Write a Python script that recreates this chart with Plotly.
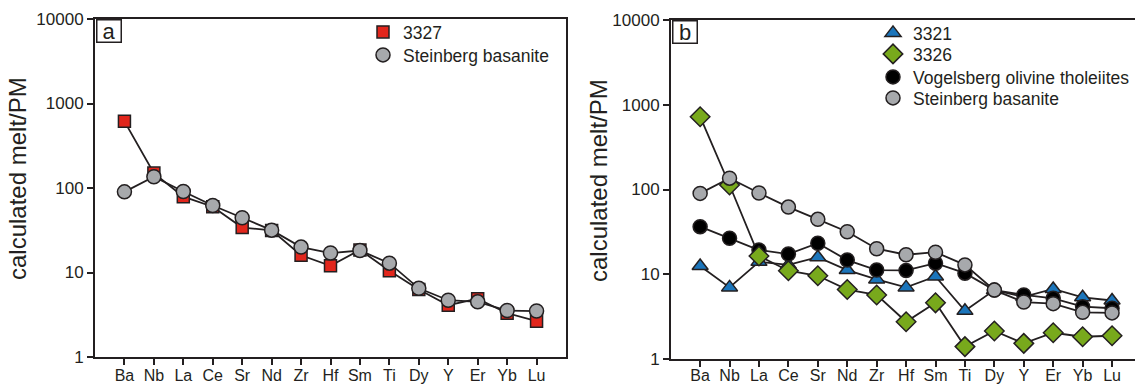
import plotly.graph_objects as go

# ---- data ----
elements = ["Ba", "Nb", "La", "Ce", "Sr", "Nd", "Zr", "Hf", "Sm", "Ti", "Dy", "Y", "Er", "Yb", "Lu"]
s3327 = [615, 150, 79, 60, 34, 31.5, 16, 12, 18.5, 10.5, 6.3, 4.1, 4.9, 3.3, 2.65]
steinberg = [90, 136, 91, 62, 44.5, 31.7, 20, 17, 18.2, 12.9, 6.5, 4.7, 4.5, 3.55, 3.5]
s3321 = [12.5, 7.0, 14, 12.9, 15.9, 11.2, 8.7, 7.0, 9.4, 3.7, 6.5, 5.4, 6.7, 5.35, 4.9]
s3326 = [723, 113, 16.4, 11, 9.6, 6.6, 5.7, 2.75, 4.6, 1.4, 2.14, 1.53, 2.04, 1.83, 1.88]
vogelsberg = [36.4, 26.6, 19.3, 17.3, 23.2, 14.7, 11.2, 11.1, 13.5, 10.3, 6.5, 5.7, 5.2, 4.14, 3.97]
ytick_vals = [1, 10, 100, 1000, 10000]
ytick_text = ["1", "10", "100", "1000", "10000"]

INK = "#231f20"
RED = "#e2261c"
GRAY = "#a7a9ac"
BLUE = "#1b75bb"
GREEN = "#78a91c"
BLACK = "#000000"
FONT = "Liberation Sans, Arial, sans-serif"

W, H = 1135, 384

fig = go.Figure()

def line_trace(y, xa, ya):
    fig.add_trace(go.Scatter(x=elements, y=y, mode="lines", xaxis=xa, yaxis=ya,
                             line=dict(color=INK, width=1.8), showlegend=False,
                             hoverinfo="skip"))

def marker_trace(y, xa, ya, name, symbol, color, size, legend):
    fig.add_trace(go.Scatter(x=elements, y=y, mode="markers", xaxis=xa, yaxis=ya,
                             name=name, legend=legend,
                             marker=dict(symbol=symbol, color=color, size=size,
                                         line=dict(color=INK, width=1.5))))

# panel a
line_trace(s3327, "x", "y")
line_trace(steinberg, "x", "y")
marker_trace(s3327, "x", "y", "3327", "square", RED, 12, "legend")
marker_trace(steinberg, "x", "y", "Steinberg basanite", "circle", GRAY, 14, "legend2")

# panel b
for ser in (s3321, vogelsberg, s3326, steinberg):
    line_trace(ser, "x2", "y2")
marker_trace(s3321, "x2", "y2", "3321", "triangle-up", BLUE, 14, "legend3")
marker_trace(vogelsberg, "x2", "y2", "Vogelsberg olivine tholeiites", "circle", BLACK, 14, "legend5")
marker_trace(s3326, "x2", "y2", "3326", "diamond", GREEN, 15, "legend4")
marker_trace(steinberg, "x2", "y2", "Steinberg basanite", "circle", GRAY, 14, "legend6")

def px(v):
    return v / W

def py(v):
    return 1 - v / H

xa_common = dict(type="category", showline=True, linecolor=INK, linewidth=2,
                 ticks="outside", ticklen=6, tickwidth=2, tickcolor=INK,
                 showgrid=False, zeroline=False, mirror=True, automargin=False,
                 tickfont=dict(family=FONT, size=16, color=INK))
ya_common = dict(type="log", range=[0, 4], tickvals=ytick_vals, ticktext=ytick_text,
                 showline=True, linecolor=INK, linewidth=2,
                 ticks="outside", ticklen=6, tickwidth=2, tickcolor=INK,
                 showgrid=False, zeroline=False, automargin=False,
                 tickfont=dict(family=FONT, size=17, color=INK))

def leg(x, y):
    return dict(x=px(x), y=py(y), xanchor="left", yanchor="top",
                bgcolor="rgba(0,0,0,0)", font=dict(family=FONT, size=17.5, color=INK),
                tracegroupgap=0, itemclick=False, itemdoubleclick=False)

fig.update_layout(
    width=W, height=H,
    margin=dict(l=0, r=0, t=0, b=0, pad=0, autoexpand=False),
    paper_bgcolor="white", plot_bgcolor="white",
    font=dict(family=FONT, color=INK),
    xaxis=dict(xa_common, domain=[px(95), px(566)], range=[-1, 15], anchor="y",
               ticklabelstandoff=-3),
    yaxis=dict(ya_common, domain=[py(357), py(19)], anchor="x", mirror=True),
    xaxis2=dict(xa_common, domain=[px(671), 1.0], range=[-0.99, 14.78], anchor="y2",
                ticklabelstandoff=-5),
    yaxis2=dict(ya_common, domain=[py(359), py(20)], anchor="x2", mirror=False),
    legend=leg(363, 14),
    legend2=leg(363, 37),
    legend3=leg(873, 15),
    legend4=leg(873, 36),
    legend5=leg(873, 59),
    legend6=leg(873, 80),
    annotations=[
        dict(text="calculated melt/PM", textangle=-90, x=px(18), y=py(179),
             xref="paper", yref="paper", xanchor="center", yanchor="middle",
             showarrow=False, font=dict(family=FONT, size=24, color=INK)),
        dict(text="calculated melt/PM", textangle=-90, x=px(598), y=py(181),
             xref="paper", yref="paper", xanchor="center", yanchor="middle",
             showarrow=False, font=dict(family=FONT, size=24, color=INK)),
        dict(text="a", x=px(96), y=py(19), xref="paper", yref="paper",
             xanchor="left", yanchor="top", showarrow=False,
             bgcolor="white", bordercolor=INK, borderwidth=1.5, borderpad=0,
             width=23, height=21, font=dict(family=FONT, size=22, color=INK)),
        dict(text="b", x=px(672), y=py(20), xref="paper", yref="paper",
             xanchor="left", yanchor="top", showarrow=False,
             bgcolor="white", bordercolor=INK, borderwidth=1.5, borderpad=0,
             width=23, height=21, font=dict(family=FONT, size=22, color=INK)),
    ],
)

page_js = "document.body.style.margin='0';document.body.style.overflow='hidden';"

fig.write_html("out.html", config={"displayModeBar": False}, post_script=page_js)
